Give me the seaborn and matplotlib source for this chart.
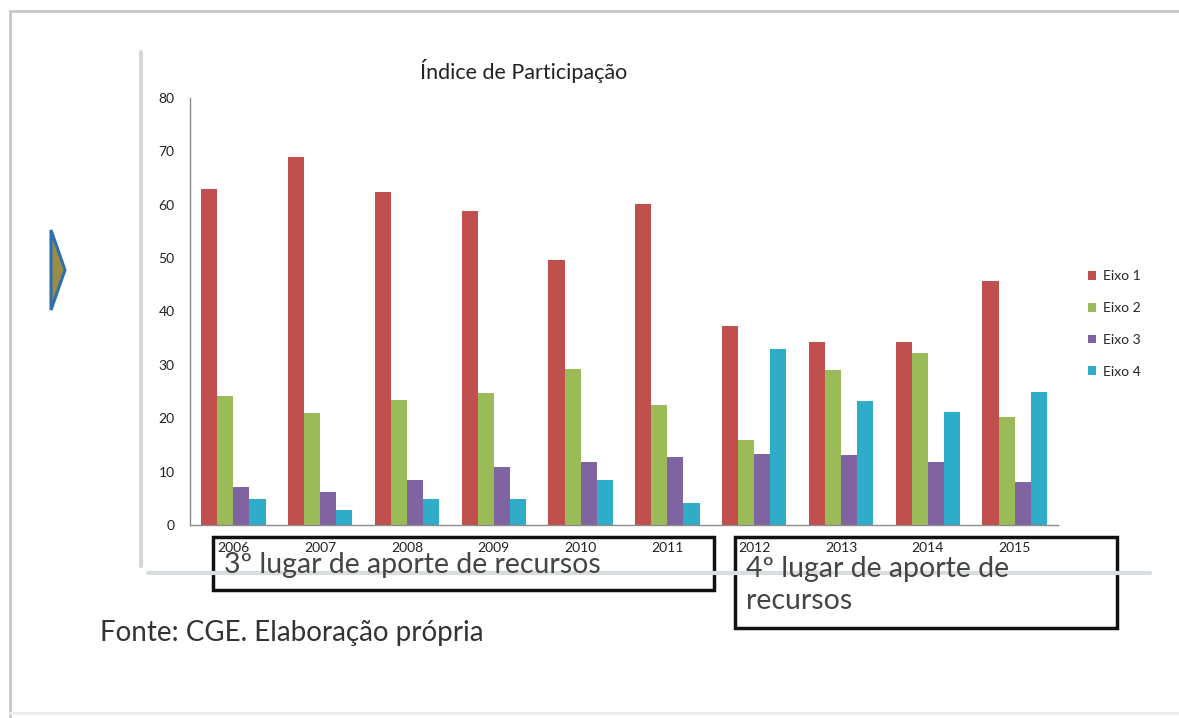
import matplotlib
matplotlib.use("Agg")
import matplotlib.pyplot as plt
from matplotlib.patches import Polygon, Rectangle
import numpy as np
import pandas as pd
import seaborn as sns

# Participation index by axis, 2006-2015
years = ["2006", "2007", "2008", "2009", "2010", "2011", "2012", "2013", "2014", "2015"]
eixo1 = [63.0, 69.0, 62.4, 58.8, 49.7, 60.2, 37.2, 34.2, 34.2, 45.8]
eixo2 = [24.2, 20.9, 23.5, 24.8, 29.3, 22.4, 16.0, 29.0, 32.3, 20.2]
eixo3 = [7.2, 6.2, 8.4, 10.9, 11.8, 12.8, 13.3, 13.1, 11.8, 8.1]
eixo4 = [4.8, 2.9, 4.8, 4.8, 8.4, 4.2, 32.9, 23.3, 21.1, 25.0]
series_names = ["Eixo 1", "Eixo 2", "Eixo 3", "Eixo 4"]
colors = ["#C0504D", "#9BBB59", "#8064A2", "#2FACC8"]

title = "Índice de Participação"
box_left = "3º lugar de aporte de recursos"
box_right = "4º lugar de aporte de\nrecursos"
source = "Fonte: CGE. Elaboração própria"

df = pd.DataFrame({
    "Ano": years * 4,
    "Eixo": [n for n in series_names for _ in years],
    "Valor": eixo1 + eixo2 + eixo3 + eixo4,
})

sns.set_style("white")
plt.rcParams["font.family"] = ["Lato", "DejaVu Sans"]

W, H = 1179, 718
fig = plt.figure(figsize=(W / 100, H / 100), dpi=100)

def fx(px):
    return px / W

def fy(py):
    return 1 - py / H

# Slide frame
fig.add_artist(plt.Line2D([fx(10), 1.0], [fy(11), fy(11)], transform=fig.transFigure,
                          color="#C8C8C8", lw=2.0))
fig.add_artist(plt.Line2D([fx(10), fx(10)], [fy(11), fy(718)], transform=fig.transFigure,
                          color="#C8C8C8", lw=2.0))
fig.add_artist(plt.Line2D([fx(10), 1.0], [fy(713), fy(713)], transform=fig.transFigure,
                          color="#EDEDED", lw=2.0))

# Chart-area frame
fig.add_artist(plt.Line2D([fx(141), fx(141)], [fy(52), fy(566)], transform=fig.transFigure,
                          color="#D6D9DC", lw=3.0))
fig.add_artist(plt.Line2D([fx(148), fx(1150)], [fy(573), fy(573)], transform=fig.transFigure,
                          color="#DADDE0", lw=3.0))

# Arrow marker on the left
arrow = Polygon([[fx(51), fy(230)], [fx(65), fy(270)], [fx(51), fy(310)]], closed=True,
                transform=fig.transFigure, facecolor="#9A8C45", edgecolor="#2F6FAE", lw=2.2)
fig.add_artist(arrow)

ax = fig.add_axes([fx(190), fy(525), fx(1058) - fx(190), fy(98) - fy(525)])
sns.barplot(data=df, x="Ano", y="Valor", hue="Eixo", palette=colors, width=0.74,
            linewidth=0, saturation=1, ax=ax, legend=True)

ax.set_ylim(0, 80)
ax.set_xlim(-0.5, len(years) - 0.5)
ax.set_yticks(np.arange(0, 81, 10))
ax.set_xlabel("")
ax.set_ylabel("")
for s in ["top", "right"]:
    ax.spines[s].set_visible(False)
for s in ["left", "bottom"]:
    ax.spines[s].set_color("#8C8C8C")
    ax.spines[s].set_linewidth(1.0)
ax.set_xticks(np.arange(-0.5, len(years), 1.0), minor=True)
ax.tick_params(axis="x", which="major", length=0, pad=12, labelsize=10, colors="#222222")
ax.tick_params(axis="x", which="minor", length=5, color="#8C8C8C", width=1)
ax.tick_params(axis="y", which="major", length=5, color="#8C8C8C", width=1,
               labelsize=10, colors="#222222", pad=6)
ax.tick_params(axis="y", which="minor", length=0)
ax.grid(False)

handles, labels = ax.get_legend_handles_labels()
ax.legend(handles, labels, loc="upper left", bbox_to_anchor=(fx(1075), fy(258)),
          bbox_transform=fig.transFigure, frameon=False, fontsize=10,
          handlelength=0.6, handleheight=0.6, handletextpad=0.5, labelspacing=1.42)

fig.text(fx(524), fy(71), title, ha="center", va="center", fontsize=15.5, color="#222222")

# Annotation boxes below the axis
fig.add_artist(Rectangle((fx(213), fy(590)), fx(714) - fx(213), fy(537) - fy(590),
                         transform=fig.transFigure, fill=False, edgecolor="#111111", lw=2.5))
fig.add_artist(Rectangle((fx(735), fy(628)), fx(1117) - fx(735), fy(537) - fy(628),
                         transform=fig.transFigure, fill=False, edgecolor="#111111", lw=2.5))
fig.text(fx(224), fy(565), box_left, ha="left", va="center", fontsize=20.5, color="#454545")
fig.text(fx(746), fy(585), box_right, ha="left", va="center", fontsize=20.5, color="#454545",
         linespacing=1.32)

fig.text(fx(100), fy(633), source, ha="left", va="center", fontsize=20, color="#333333")

fig.savefig("out.png", dpi=100)
